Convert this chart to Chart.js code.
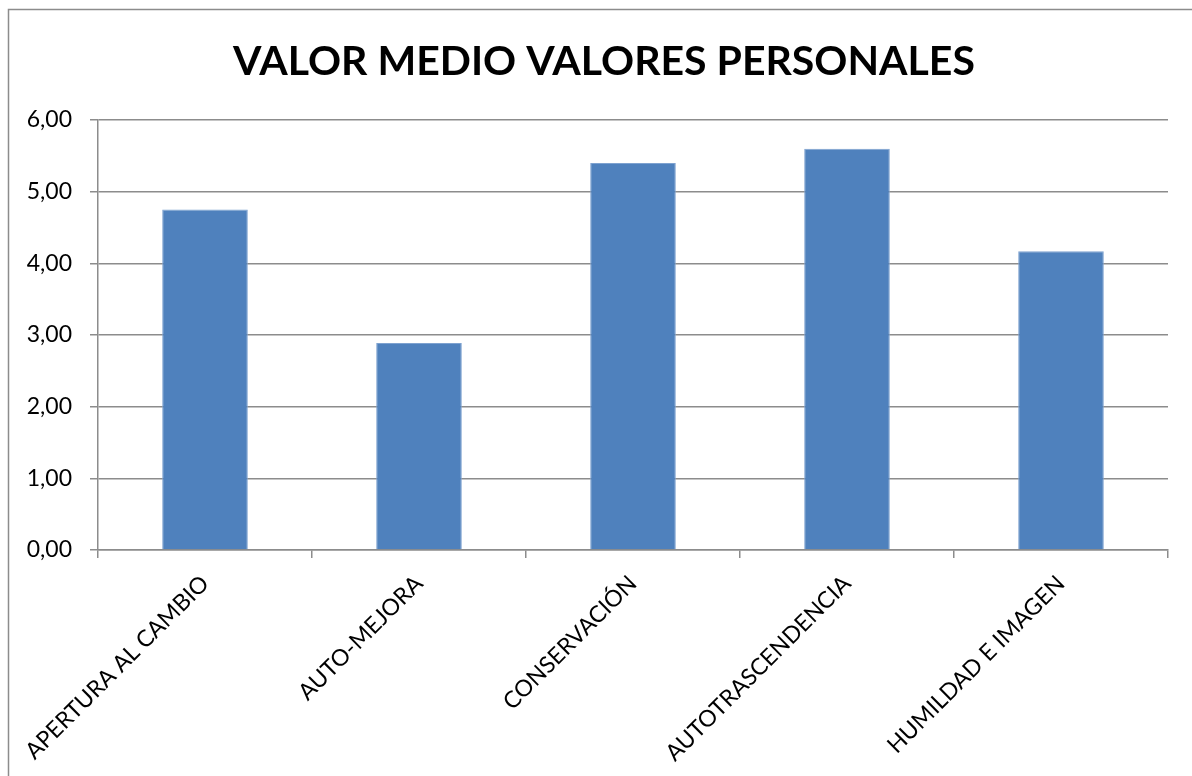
<!DOCTYPE html>
<html>
<head>
<meta charset="utf-8">
<script src="https://cdn.jsdelivr.net/npm/chart.js@4.4.0/dist/chart.umd.min.js"></script>
<style>
  html, body { margin: 0; padding: 0; background: #fff; }
  #wrap { width: 1192px; height: 776px; position: relative; }
</style>
</head>
<body>
<div id="wrap"><canvas id="valoresChart" width="1192" height="776"></canvas></div>
<script>
const TITULO = 'VALOR MEDIO VALORES PERSONALES';

const CATEGORIAS = ['APERTURA AL CAMBIO', 'AUTO-MEJORA', 'CONSERVACIÓN', 'AUTOTRASCENDENCIA', 'HUMILDAD E IMAGEN'];

const VALOR_MEDIO = [4.75, 2.89, 5.40, 5.60, 4.17];

const Y_TICKS = [0, 1, 2, 3, 4, 5, 6];

const FONT = 'Lato, "Open Sans", sans-serif';

// marco exterior (solo se ven borde superior e izquierdo) y título
const marcoPlugin = {
    id: 'marco',
    beforeDraw(chart) {
        const ctx = chart.ctx;
        ctx.save();
        ctx.fillStyle = '#fff';
        ctx.fillRect(0, 0, chart.width, chart.height);
        ctx.strokeStyle = '#8c8c8c';
        ctx.lineWidth = 1.5;
        ctx.beginPath();
        ctx.moveTo(8.5, chart.height + 5);
        ctx.lineTo(8.5, 9.5);
        ctx.lineTo(chart.width + 5, 9.5);
        ctx.stroke();

        ctx.fillStyle = '#000';
        ctx.font = 'bold 41px ' + FONT;
        ctx.textAlign = 'center';
        ctx.textBaseline = 'alphabetic';
        ctx.fillText(TITULO, 604, 75);
        ctx.restore();
    }
};

const dataValores = {
    labels: CATEGORIAS,
    datasets: [
        {
            label: 'Valor medio',
            data: VALOR_MEDIO,
            backgroundColor: '#4f81bd',
            borderColor: '#7ea2d0',
            borderWidth: 1,
            categoryPercentage: 1,
            barPercentage: 0.4
        }
    ]
};

const configValores = {
    type: 'bar',
    data: dataValores,
    plugins: [marcoPlugin],
    options: {
        responsive: false,
        animation: false,
        layout: {
            padding: { left: 0, right: 24, top: 120, bottom: 0 }
        },
        plugins: {
            legend: { display: false },
            tooltip: { enabled: false },
            title: { display: false }
        },
        scales: {
            x: {
                grid: {
                    offset: true,
                    drawOnChartArea: false,
                    drawTicks: true,
                    tickLength: 8,
                    color: '#8c8c8c',
                    lineWidth: 1.5
                },
                border: { display: true, color: '#8c8c8c', width: 1.5 },
                ticks: {
                    color: '#000',
                    font: { family: FONT, size: 23 },
                    minRotation: 45,
                    maxRotation: 45,
                    padding: 12,
                    autoSkip: false
                },
                afterFit(scale) { scale.height = 226; }
            },
            y: {
                min: 0,
                max: 6,
                grid: {
                    color: '#8c8c8c',
                    lineWidth: 1.5,
                    drawTicks: true,
                    tickLength: 8
                },
                border: { display: true, color: '#8c8c8c', width: 1.5 },
                afterBuildTicks(scale) {
                    scale.ticks = Y_TICKS.map(v => ({ value: v }));
                },
                ticks: {
                    color: '#000',
                    font: { family: FONT, size: 23 },
                    padding: 18,
                    callback: v => Number(v).toFixed(2).replace('.', ',')
                },
                afterFit(scale) { scale.width = 98; }
            }
        }
    }
};

var valoresChart = new Chart(
    document.getElementById('valoresChart'),
    configValores
);
</script>
</body>
</html>
